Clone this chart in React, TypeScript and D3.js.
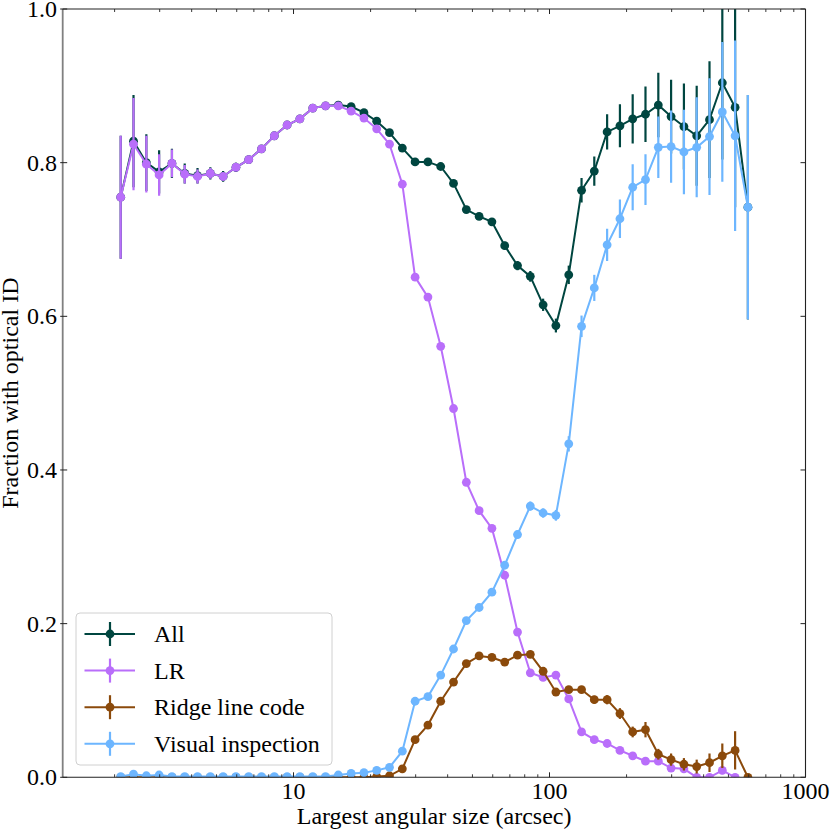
import React, { useEffect } from "react";
import * as d3 from "d3";

// bin centres of the largest angular size (arcsec)
const lasBins = [
  2.113, 2.371, 2.661, 2.985, 3.35, 3.758, 4.217, 4.732, 5.309, 5.957,
  6.683, 7.499, 8.414, 9.441, 10.59, 11.89, 13.34, 14.96, 16.79, 18.84,
  21.13, 23.71, 26.61, 29.85, 33.5, 37.58, 42.17, 47.32, 53.09, 59.57,
  66.83, 74.99, 84.14, 94.41, 105.9, 118.9, 133.4, 149.6, 167.9, 188.4,
  211.3, 237.1, 266.1, 298.5, 335.0, 375.8, 421.7, 473.2, 530.9, 595.7,
];

const allFrac = [
  0.755, 0.828, 0.8, 0.788, 0.799, 0.786, 0.783, 0.786, 0.782, 0.794,
  0.804, 0.818, 0.835, 0.849, 0.857, 0.871, 0.874, 0.875, 0.873, 0.865,
  0.854, 0.839, 0.819, 0.801, 0.801, 0.795, 0.773, 0.739, 0.73, 0.723,
  0.692, 0.666, 0.652, 0.615, 0.588, 0.654, 0.764, 0.789, 0.84, 0.848,
  0.857, 0.863, 0.875, 0.86, 0.847, 0.835, 0.856, 0.904, 0.872, 0.742,
];
const allErr = [
  0.08, 0.06, 0.037, 0.028, 0.019, 0.013, 0.01, 0.008, 0.007, 0.006,
  0.005, 0.005, 0.004, 0.004, 0.004, 0.004, 0.004, 0.004, 0.004, 0.004,
  0.004, 0.004, 0.004, 0.004, 0.004, 0.004, 0.004, 0.004, 0.004, 0.004,
  0.005, 0.006, 0.007, 0.008, 0.009, 0.012, 0.016, 0.019, 0.023, 0.028,
  0.032, 0.036, 0.042, 0.048, 0.056, 0.065, 0.076, 0.1, 0.13, 0.146,
];

const lrFrac = [
  0.755, 0.824, 0.798, 0.784, 0.799, 0.785, 0.782, 0.786, 0.782, 0.794,
  0.804, 0.818, 0.835, 0.849, 0.857, 0.871, 0.874, 0.874, 0.867, 0.858,
  0.844, 0.824, 0.772, 0.651, 0.625, 0.561, 0.48, 0.384, 0.347, 0.324,
  0.263, 0.189, 0.136, 0.13, 0.133, 0.102, 0.059, 0.049, 0.044, 0.035,
  0.028, 0.021, 0.021, 0.012, 0.011, 0.0, 0.0, 0.009, 0.0, null,
];
const lrErr = [
  0.08, 0.06, 0.037, 0.027, 0.018, 0.012, 0.009, 0.007, 0.005, 0.005,
  0.005, 0.004, 0.004, 0.004, 0.004, 0.004, 0.004, 0.004, 0.004, 0.004,
  0.004, 0.004, 0.004, 0.004, 0.004, 0.004, 0.004, 0.004, 0.004, 0.004,
  0.004, 0.004, 0.004, 0.004, 0.004, 0.004, 0.004, 0.004, 0.004, 0.004,
  0.004, 0.004, 0.004, 0.004, 0.004, 0.004, 0.004, 0.005, 0.004, 0,
];

const ridgeFrac = [
  0, 0, 0, 0, 0, 0, 0, 0, 0, 0,
  0, 0, 0, 0, 0, 0, 0, 0, 0, 0,
  0.001, 0.002, 0.011, 0.049, 0.068, 0.099, 0.124, 0.148, 0.158, 0.156,
  0.15, 0.159, 0.16, 0.138, 0.111, 0.114, 0.114, 0.101, 0.101, 0.083,
  0.059, 0.062, 0.03, 0.023, 0.017, 0.014, 0.019, 0.028, 0.035, 0.0,
];
const ridgeErr = [
  0, 0, 0, 0, 0, 0, 0, 0, 0, 0,
  0, 0, 0, 0, 0, 0, 0, 0, 0, 0,
  0.002, 0.002, 0.003, 0.004, 0.004, 0.004, 0.004, 0.004, 0.004, 0.004,
  0.004, 0.004, 0.004, 0.004, 0.004, 0.004, 0.004, 0.005, 0.006, 0.007,
  0.007, 0.01, 0.007, 0.008, 0.008, 0.009, 0.012, 0.016, 0.025, 0,
];

const visualFrac = [
  0.001, 0.004, 0.002, 0.003, 0.001, 0.001, 0.001, 0.001, 0.001, 0.001,
  0.001, 0.001, 0.001, 0.001, 0.001, 0.001, 0.001, 0.003, 0.005, 0.006,
  0.009, 0.013, 0.034, 0.099, 0.105, 0.133, 0.167, 0.204, 0.221, 0.241,
  0.276, 0.316, 0.353, 0.344, 0.341, 0.434, 0.587, 0.637, 0.693, 0.727,
  0.768, 0.778, 0.82, 0.821, 0.814, 0.82, 0.834, 0.866, 0.835, 0.742,
];
const visualErr = [
  0.002, 0.003, 0.002, 0.002, 0.002, 0.002, 0.002, 0.002, 0.002, 0.002,
  0.002, 0.002, 0.002, 0.002, 0.002, 0.002, 0.002, 0.002, 0.002, 0.003,
  0.003, 0.003, 0.004, 0.004, 0.004, 0.004, 0.004, 0.004, 0.004, 0.004,
  0.005, 0.005, 0.006, 0.006, 0.007, 0.01, 0.014, 0.017, 0.021, 0.025,
  0.03, 0.033, 0.04, 0.047, 0.055, 0.065, 0.076, 0.091, 0.124, 0.146,
];

const seriesNames = ["All", "LR", "Ridge line code", "Visual inspection"];
const seriesColors = ["#004640", "#b96efa", "#8b4a0b", "#6db6ff"];
const seriesValues = [allFrac, lrFrac, ridgeFrac, visualFrac];
const seriesErrors = [allErr, lrErr, ridgeErr, visualErr];

const xMajorTicks = [10, 100, 1000];
const yTicks = [0, 0.2, 0.4, 0.6, 0.8, 1.0];

const W = 830;
const H = 832;
const left = 62.7;
const right = 805.5;
const top = 9;
const bottom = 777.3;
const font = "'Liberation Serif', 'Times New Roman', serif";
const markerR = 4.4;

export default function App() {
  useEffect(() => {
    document.body.style.margin = "0";
  }, []);

  const x = d3.scaleLog().domain([1.254, 1000]).range([left, right]);
  const y = d3.scaleLinear().domain([0, 1]).range([bottom, top]);

  const minorTicks: number[] = [];
  [1, 10, 100].forEach(dec => {
    for (let k = 2; k <= 9; k++) {
      const v = k * dec;
      if (v > 1.254 && v < 1000) minorTicks.push(v);
    }
  });

  const line = d3.line<[number, number | null]>()
    .defined(d => d[1] !== null)
    .x(d => x(d[0]))
    .y(d => y(d[1] as number));

  return (
    <svg width={W} height={H} style={{ display: "block" }} fontFamily={font}>
      <defs>
        <clipPath id="plot-clip">
          <rect x={left} y={top} width={right - left} height={bottom - top} />
        </clipPath>
      </defs>
      <rect x={0} y={0} width={W} height={H} fill="#fff" />

      <g clipPath="url(#plot-clip)">
        {seriesValues.map((vals, s) => {
          const pts: [number, number | null][] = lasBins.map((b, i) => [b, vals[i]]);
          return (
            <g key={seriesNames[s]}>
              {pts.map((p, i) => p[1] === null ? null : (
                <line key={"e" + i}
                  x1={x(p[0])} x2={x(p[0])}
                  y1={y((p[1] as number) - seriesErrors[s][i])}
                  y2={y((p[1] as number) + seriesErrors[s][i])}
                  stroke={seriesColors[s]} strokeWidth={2.2} />
              ))}
              <path d={line(pts) || ""} fill="none" stroke={seriesColors[s]} strokeWidth={2} />
              {pts.map((p, i) => p[1] === null ? null : (
                <circle key={"m" + i} cx={x(p[0])} cy={y(p[1] as number)} r={markerR}
                  fill={seriesColors[s]} />
              ))}
            </g>
          );
        })}
      </g>

      {/* frame */}
      <line x1={left} x2={left} y1={top} y2={bottom} stroke="#808080" strokeWidth={1.8} />
      <line x1={right} x2={right} y1={top} y2={bottom} stroke="#222" strokeWidth={1.1} />
      <line x1={left} x2={right} y1={top} y2={top} stroke="#222" strokeWidth={1.1} />
      <line x1={left} x2={right} y1={bottom} y2={bottom} stroke="#222" strokeWidth={1.1} />

      {/* x ticks */}
      {xMajorTicks.map(t => (
        <g key={"xt" + t}>
          <line x1={x(t)} x2={x(t)} y1={bottom} y2={bottom - 5} stroke="#222" strokeWidth={1} />
          <line x1={x(t)} x2={x(t)} y1={top} y2={top + 5} stroke="#222" strokeWidth={1} />
          <text x={x(t)} y={799} fontSize={24} textAnchor="middle">{t}</text>
        </g>
      ))}
      {minorTicks.map(t => (
        <g key={"xm" + t}>
          <line x1={x(t)} x2={x(t)} y1={bottom} y2={bottom - 3} stroke="#222" strokeWidth={0.9} />
          <line x1={x(t)} x2={x(t)} y1={top} y2={top + 3} stroke="#222" strokeWidth={0.9} />
        </g>
      ))}

      {/* y ticks */}
      {yTicks.map(t => (
        <g key={"yt" + t}>
          <line x1={left - 2.5} x2={left + 4.5} y1={y(t)} y2={y(t)} stroke="#222" strokeWidth={1} />
          <line x1={right} x2={right - 5} y1={y(t)} y2={y(t)} stroke="#222" strokeWidth={1} />
          <text x={57} y={y(t) + 8} fontSize={24} textAnchor="end">{d3.format(".1f")(t)}</text>
        </g>
      ))}

      <text x={(left + right) / 2} y={824} fontSize={24} textAnchor="middle">
        Largest angular size (arcsec)
      </text>
      <text transform={`translate(18, ${(top + bottom) / 2}) rotate(-90)`} fontSize={24} textAnchor="middle">
        Fraction with optical ID
      </text>

      {/* legend */}
      <rect x={76} y={613} width={256} height={152} rx={4} fill="#fff" fillOpacity={0.8}
        stroke="#d0d0d0" strokeWidth={1} />
      {seriesNames.map((name, s) => {
        const cy = 634 + s * 36.6;
        return (
          <g key={"lg" + name}>
            <line x1={110} x2={110} y1={cy - 12} y2={cy + 12} stroke={seriesColors[s]} strokeWidth={2.2} />
            <line x1={84.5} x2={135} y1={cy} y2={cy} stroke={seriesColors[s]} strokeWidth={2} />
            <circle cx={110} cy={cy} r={markerR} fill={seriesColors[s]} />
            <text x={154} y={cy + 8} fontSize={24}>{name}</text>
          </g>
        );
      })}
    </svg>
  );
}
